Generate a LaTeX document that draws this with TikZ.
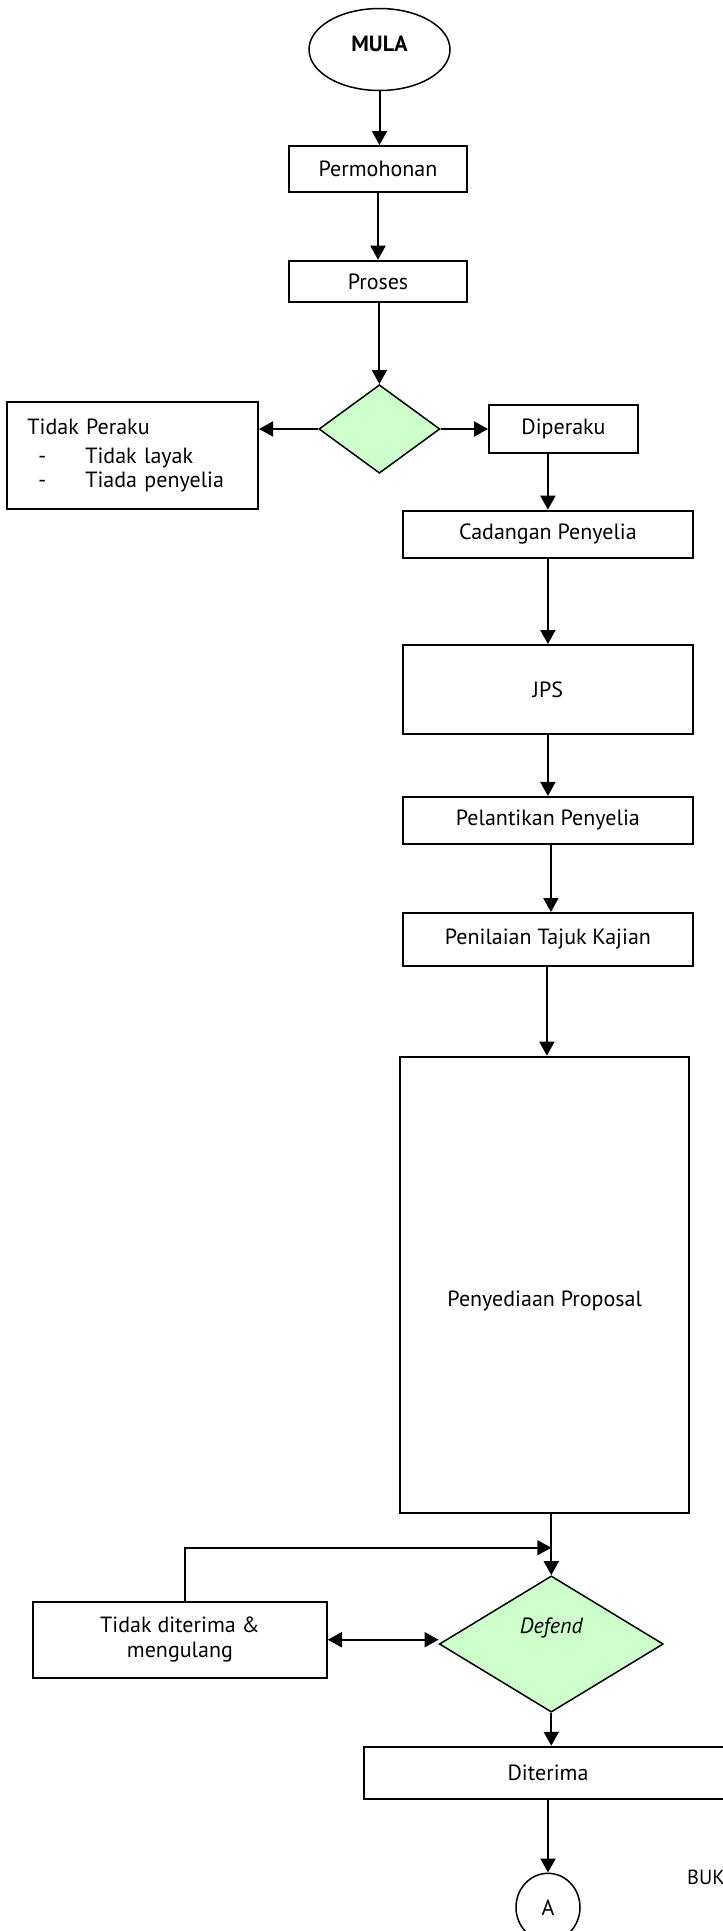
\documentclass[tikz,border=0pt]{standalone}
\usepackage{fontspec}
\setmainfont{PT Sans}
\usetikzlibrary{arrows.meta,shapes.geometric}
\definecolor{decgreen}{HTML}{CCFFCC}
\begin{document}
\begin{tikzpicture}[x=1pt,y=-1pt,
  every node/.style={font=\fontsize{22}{25}\selectfont},
  box/.style={draw,line width=2pt,rectangle,inner sep=0pt,align=center},
  dec/.style={draw,line width=1.5pt,diamond,fill=decgreen,inner sep=0pt},
  arr/.style={line width=2pt,-{Triangle[length=14pt,width=15pt]}},
  arrb/.style={line width=2pt,{Triangle[length=14pt,width=15pt]}-{Triangle[length=14pt,width=15pt]}},
  plain/.style={line width=2pt}
]
\useasboundingbox (0,0) rectangle (723,1931);
\clip (0,0) rectangle (723,1931);

% nodes
\node[ellipse,draw,line width=1.5pt,minimum width=141pt,minimum height=82pt,inner sep=0pt,
      label={[yshift=6pt]center:\bfseries MULA}] (mula) at (379.5,49.5) {};
\node[box,minimum width=178.6pt,minimum height=46.3pt] (perm) at (378,169.2) {Permohonan};
\node[box,minimum width=178.6pt,minimum height=41.6pt] (proses) at (378,281.5) {Proses};
\node[dec,minimum width=121pt,minimum height=88.5pt] (dec1) at (379.4,429) {};
\node[box,minimum width=251.3pt,minimum height=107pt,text width=210pt,inner xsep=20.65pt,align=left,
      font=\fontsize{22}{24}\selectfont] (tidak) at (132.4,455.5)
  {Tidak Peraku\\[5pt]
   \makebox[58pt][l]{\hspace*{11pt}-}Tidak layak\\
   \makebox[58pt][l]{\hspace*{11pt}-}Tiada penyelia};
\node[box,minimum width=149pt,minimum height=48.3pt] (dip) at (563.5,429.2) {Diperaku};
\node[box,minimum width=290.3pt,minimum height=47.3pt] (cad) at (547.9,534.3) {Cadangan Penyelia};
\node[box,minimum width=290.3pt,minimum height=89pt] (jps) at (547.9,689.5) {JPS};
\node[box,minimum width=290.3pt,minimum height=46.7pt] (pel) at (547.9,820.3) {Pelantikan Penyelia};
\node[box,minimum width=290.3pt,minimum height=53pt] (pen) at (547.9,939.5) {Penilaian Tajuk Kajian};
\node[box,minimum width=289.3pt,minimum height=456.3pt,
      label={[yshift=-16pt]center:Penyediaan Proposal}] (prop) at (544.7,1284.8) {};
\node[dec,minimum width=224pt,minimum height=136.3pt,
      label={[yshift=16pt]center:\itshape Defend}] (defend) at (551.3,1644) {};
\node[box,minimum width=293.7pt,minimum height=76pt] (tdt) at (179.9,1639.7) {Tidak diterima \&\\mengulang};
\node[box,minimum width=368pt,minimum height=52.3pt] (dit) at (548,1772.9) {Diterima};
\node[ellipse,draw,line width=1.5pt,minimum width=64pt,minimum height=68pt,inner sep=0pt] (A) at (548,1907.3) {A};
\node[anchor=base west,font=\fontsize{20.4}{24}\selectfont,inner sep=0pt] (buku) at (687,1884.3) {BUKU};

\coordinate (jy) at (0,1547.7);
\coordinate (j) at (defend.north |- jy);

% connectors
\draw[arr] (mula.south) -- (mula.south |- perm.north);
\draw[arr] (perm.south) -- (proses.north);
\draw[arr] (proses.south) -- (proses.south -| dec1.north) -- (dec1.north);
\draw[arr] (dec1.west) -- (dec1.west -| tidak.east);
\draw[arr] (dec1.east) -- (dec1.east -| dip.west);
\draw[arr] (dip.south -| cad.north) -- (cad.north);
\draw[arr] (cad.south) -- (jps.north);
\draw[arr] (jps.south) -- (pel.north);
\draw[arr] ([xshift=3pt]pel.south) -- ([xshift=3pt]pen.north);
\draw[arr] ([xshift=-1pt]pen.south) -- ([xshift=-1pt]pen.south |- prop.north);
\draw[arr] (defend.north |- prop.south) -- (defend.north);
\draw[arr] ([xshift=5pt]tdt.north) |- (j);
\draw[arrb] (tdt.east) -- (tdt.east -| defend.west);
\draw[arr] (defend.south) -- (defend.south |- dit.north);
\draw[arr] (dit.south) -- (A.north);
\end{tikzpicture}
\end{document}
